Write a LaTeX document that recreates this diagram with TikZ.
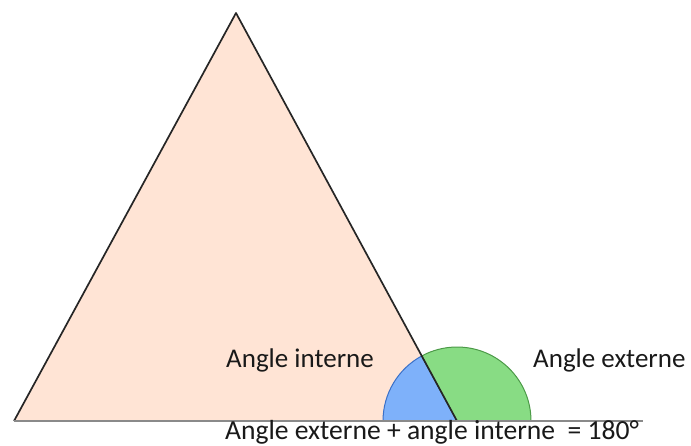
\documentclass[tikz,border=0pt]{standalone}
\usepackage{fontspec}
\setmainfont{Carlito}
\begin{document}
\begin{tikzpicture}[x=1pt,y=-1pt,
  lbl/.style={font=\fontsize{27}{30}\selectfont, inner sep=0pt, text=black!90},
  tri/.style={draw=black!85, line width=1.7pt, line join=round},
  sector/.style={line width=1pt}]
\definecolor{peach}{HTML}{FFE4D5}
\definecolor{blueF}{HTML}{7EB1FA}
\definecolor{blueD}{HTML}{3A70C8}
\definecolor{greenF}{HTML}{88DC84}
\definecolor{greenD}{HTML}{4C9A48}
\definecolor{baseG}{HTML}{8A8A8A}
\useasboundingbox (0,0) rectangle (691,445);
\coordinate (A) at (236,13);
\coordinate (B) at (14,421);
\coordinate (C) at (457,421);
\coordinate (E) at (643,421);
\fill[peach] (A) -- (B) -- (C) -- cycle;
% angle sectors
\filldraw[sector, fill=blueF, draw=blueD] (C) -- ++(-74,0) arc[start angle=180, end angle=241.45, radius=74] -- cycle;
\filldraw[sector, fill=greenF, draw=greenD] (C) -- ++(74,0) arc[start angle=0, end angle=-118.55, radius=74] -- cycle;
\draw[tri] (B) -- (A) -- (C);
\draw[baseG, line width=2.2pt] (B) -- (E);
\node[lbl, anchor=base west] (ai) at (226,367) {Angle interne};
\node[lbl, anchor=base west] (ae) at (533,367) {Angle externe};
\node[lbl, font=\fontsize{27.6}{30}\selectfont, anchor=base] (sum) at (432,439) {Angle externe + angle interne\ \ = 180°};
\end{tikzpicture}
\end{document}
